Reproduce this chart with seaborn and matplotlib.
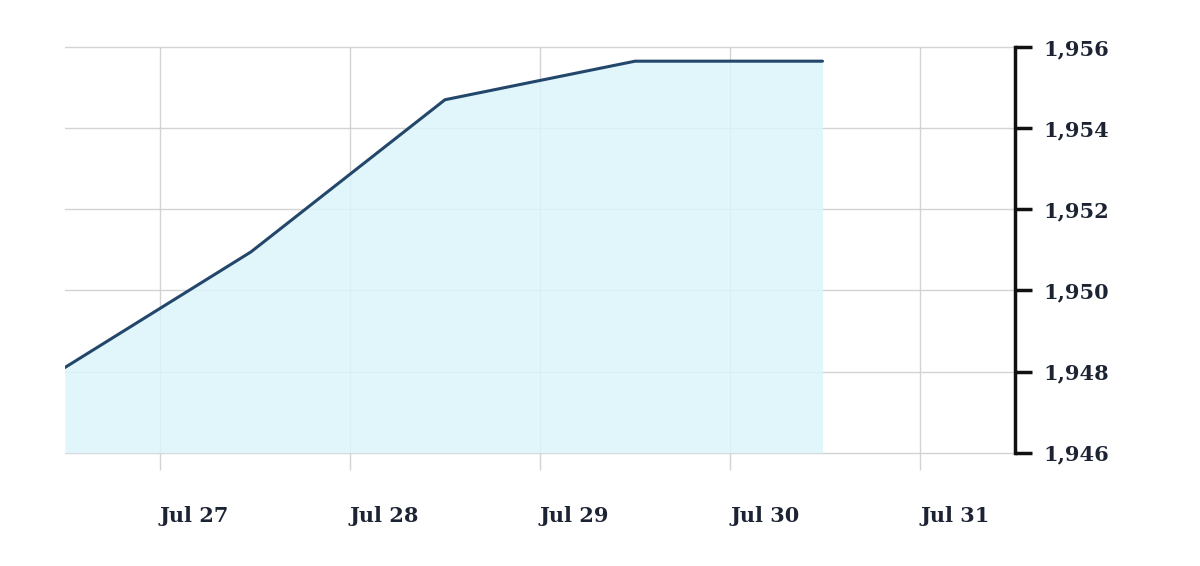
import matplotlib
matplotlib.use("Agg")
import matplotlib.pyplot as plt
import matplotlib.ticker as mticker
import seaborn as sns
import pandas as pd

# data
timestamps = ["2024-07-26 12:00", "2024-07-27 11:30", "2024-07-28 12:00",
              "2024-07-29 12:00", "2024-07-30 11:40"]
values = [1948.1, 1950.95, 1954.7, 1955.65, 1955.65]
x_ticks = ["2024-07-27", "2024-07-28", "2024-07-29", "2024-07-30", "2024-07-31"]
x_tick_labels = ["Jul 27", "Jul 28", "Jul 29", "Jul 30", "Jul 31"]
y_ticks = [1946, 1948, 1950, 1952, 1954, 1956]

df = pd.DataFrame({"time": pd.to_datetime(timestamps), "value": values})

sns.set_theme(style="white")
plt.rcParams["font.family"] = ["DejaVu Serif"]

fig = plt.figure(figsize=(12, 5.66), dpi=100)
ax = fig.add_axes([0.054, 0.2, 0.792, 0.717])

ax.fill_between(df["time"], df["value"], 1946, color="#dcf5fb", alpha=0.85,
                zorder=1, linewidth=0)
sns.lineplot(data=df, x="time", y="value", ax=ax, color="#23476b", linewidth=2.2, zorder=3)

ax.set_xlim(pd.Timestamp("2024-07-26 12:00"), pd.Timestamp("2024-07-31 12:00"))
ax.set_ylim(1946, 1956)

ax.set_xticks(pd.to_datetime(x_ticks))
ax.set_xticklabels(x_tick_labels)
ax.set_yticks(y_ticks)
ax.yaxis.set_major_formatter(mticker.FuncFormatter(lambda v, p: f"{int(v):,}"))

ax.yaxis.tick_right()
ax.grid(True, color="#d3d3d3", linewidth=1, zorder=0)
ax.set_axisbelow(True)
for gl in ax.get_ygridlines() + ax.get_xgridlines():
    gl.set_clip_on(False)

for s in ["top", "left", "bottom"]:
    ax.spines[s].set_visible(False)
ax.spines["right"].set_color("#111111")
ax.spines["right"].set_linewidth(2.5)

ax.tick_params(axis="y", right=True, left=False, length=12, width=2.5, color="#111111",
               labelsize=15, labelcolor="#1c2333", pad=8)
ax.tick_params(axis="x", bottom=True, length=12, width=1, color="#d3d3d3",
               labelsize=15, labelcolor="#1c2333", pad=26)
for lab in ax.get_xticklabels():
    lab.set_fontweight("bold")
    lab.set_horizontalalignment("left")
for lab in ax.get_yticklabels():
    lab.set_fontweight("bold")

ax.set_xlabel("")
ax.set_ylabel("")

fig.savefig("out.png", dpi=100, facecolor="white")
